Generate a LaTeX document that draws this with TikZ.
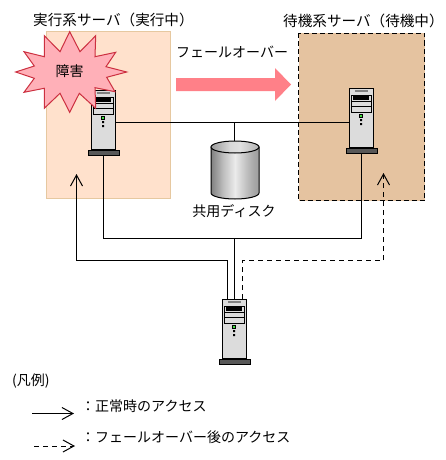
\documentclass[tikz,border=0pt]{standalone}
\usepackage{fontspec}
\setmainfont{Noto Sans CJK JP}
\usetikzlibrary{arrows.meta,shapes.geometric}
\definecolor{boxA}{HTML}{FFE1CC}
\definecolor{boxAline}{HTML}{E6C8A0}
\definecolor{boxB}{HTML}{E5C3A0}
\definecolor{starfill}{HTML}{FFB0B8}
\definecolor{starline}{HTML}{CC3040}
\definecolor{bigarrow}{HTML}{FF8088}
\definecolor{srvgrey}{HTML}{DCDCDC}
\definecolor{srvbase}{HTML}{585858}
\definecolor{ledgreen}{HTML}{40E040}
\pgfdeclarehorizontalshading{diskshade}{100bp}{%
  color(0bp)=(black!55); color(25bp)=(black!50); color(38bp)=(black!25);
  color(50bp)=(black!8); color(62bp)=(black!25); color(70bp)=(black!35); color(100bp)=(black!50)}
\pgfdeclarehorizontalshading{disktop}{100bp}{%
  color(0bp)=(black!45); color(25bp)=(black!40); color(45bp)=(black!15);
  color(55bp)=(black!12); color(75bp)=(black!30); color(100bp)=(black!40)}
\tikzset{
  x=1pt,y=-1pt,
  txt/.style={inner sep=0pt,font=\fontsize{14}{14}\selectfont},
  titletxt/.style={inner sep=0pt,font=\fontsize{14.6}{14.6}\selectfont},
  wire/.style={draw=black,line width=1pt},
  barb/.style={-{Straight Barb[length=11pt,width=12pt,line width=1pt]}},
  dashwire/.style={wire,dash pattern=on 5pt off 4pt},
  srvbody/.style={draw=black,line width=1pt,fill=srvgrey,inner sep=0pt,minimum width=24pt,minimum height=59pt,anchor=north west},
  srvfoot/.style={draw=black,line width=1pt,fill=srvbase,inner sep=0pt,minimum width=31pt,minimum height=5pt,anchor=north},
}
\newcommand{\srv}[3]{%
  \node[srvbody] (#1) at (#2,#3) {};
  \node[srvfoot] (#1foot) at (#1.south) {};
  \begin{scope}[shift={(#2,#3)}]
    \fill[gray] (6,2) rectangle (19,4);
    \draw[black,line width=.7pt,fill=srvgrey] (2,7) rectangle (22,24);
    \fill[black] (4,8) rectangle (20,12);
    \draw[black,line width=.7pt] (2,13) -- (22,13) (2,18) -- (22,18);
    \draw[black,line width=.6pt,fill=ledgreen] (10.5,26) rectangle (13.5,29);
    \fill[black] (11,31) rectangle (13,33) (11,35) rectangle (13,37);
  \end{scope}
}
\begin{document}
\begin{tikzpicture}
\useasboundingbox (0,0) rectangle (446,460);
% boxes
\fill[boxA,draw=boxAline,line width=1pt] (46.5,31.5) rectangle (170.5,198.5);
\fill[boxB] (298.5,33.5) rectangle (424.5,200.5);
\draw[black,line width=1pt,dash pattern=on 5pt off 3pt] (298.5,33.5) rectangle (424.5,200.5);
% titles
\node[titletxt,anchor=west] (titleA) at (33,20) {実行系サーバ（実行中）};
\node[titletxt,anchor=west] (titleB) at (283,21) {待機系サーバ（待機中）};
\node[txt,anchor=west] (foText) at (176,52) {フェールオーバー};
% big arrow
\fill[bigarrow] (176,78) -- (275,78) -- (275,68) -- (291,84.5) -- (275,101) -- (275,91) -- (176,91) -- cycle;
% disk
\node[inner sep=0pt,minimum width=48pt,minimum height=58pt,anchor=north west] (disk) at (211,141) {};
\draw[line width=1pt,shading=diskshade]
  (211,147) -- (211,193) arc[start angle=180,end angle=360,x radius=24,y radius=-6] -- (259,147) -- cycle;
\draw[line width=1pt,shading=disktop]
  (235,147) ellipse[x radius=24,y radius=6];
\node[txt] (diskText) at (234,211) {共用ディスク};
% servers
\srv{srvA}{91}{90}
\srv{srvB}{349}{88}
\srv{srvC}{222}{299}
% connectors
\coordinate (bus) at (234.5,122.5);
\coordinate (lanLow) at (234.5,238.5);
\coordinate (clientL) at (227.5,299);
\coordinate (clientR) at (242.5,299);
\coordinate (tipA) at (76.5,174);
\coordinate (tipB) at (383.5,173);
\coordinate (jogY) at (0,260.5);
\draw[wire] (srvA.east |- bus) -- (srvB.west |- bus);
\draw[wire] (bus) -- (disk.north -| bus);
\draw[wire] (srvAfoot.south) |- (lanLow) -| (srvBfoot.south);
\draw[wire] (lanLow) -- (srvC.north -| lanLow);
\draw[wire,barb] (clientL) |- (tipA |- jogY) -- (tipA);
\draw[dashwire,barb] (clientR) |- (tipB |- jogY) -- (tipB);
% star
\filldraw[fill=starfill,draw=starline,line width=1pt]
 (69.7,31.7) -- (80,51.7) -- (95.7,35.7) -- (95,56.7) -- (115.7,52.3) -- (106,66.7) -- (126.7,72) -- (106.7,77.3) -- (115,91.7) -- (95,87.7) -- (95.7,108.3) -- (79.3,93.3) -- (69.7,112.3) -- (60,93.3) -- (44.3,108.3) -- (44.3,88.3) -- (24,92.3) -- (34.3,78.3) -- (15.7,72) -- (34.3,66) -- (24,51.7) -- (44.3,56.7) -- (44.3,35.7) -- (60,51.7) -- cycle;
\node[txt] (faultText) at (69.5,71) {障害};
% legend
\node[txt,anchor=west] (legendT) at (12,381) {(凡例)};
\node[txt,anchor=west] (legendA) at (81,406) {：正常時のアクセス};
\node[txt,anchor=west] (legendB) at (81,437) {：フェールオーバー後のアクセス};
\coordinate (lA0) at (32,413.5);
\coordinate (lA1) at (74,413.5);
\coordinate (lB0) at (34,446);
\coordinate (lB1) at (75,446);
\draw[wire,barb] (lA0) -- (lA1);
\draw[dashwire,barb] (lB0) -- (lB1);
\end{tikzpicture}
\end{document}
